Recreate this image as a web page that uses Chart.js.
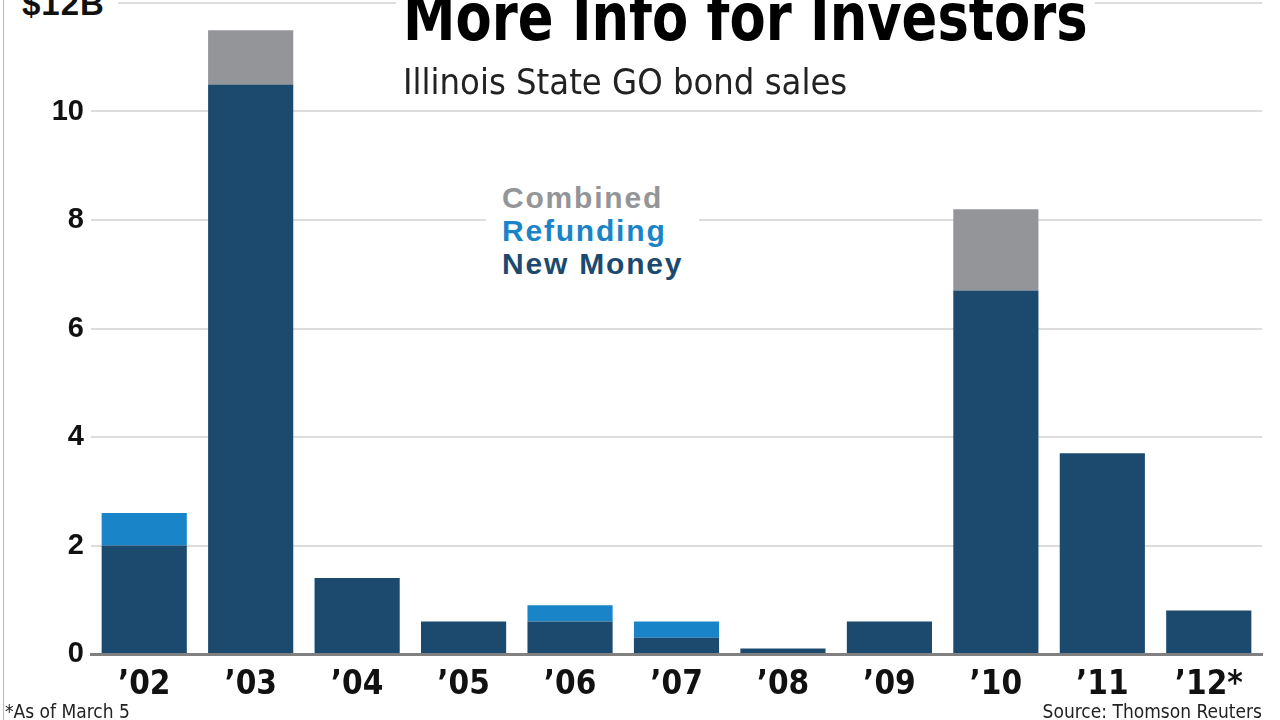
<!DOCTYPE html>
<html>
<head>
<meta charset="utf-8">
<script src="https://cdn.jsdelivr.net/npm/chart.js@4"></script>
<style>
  html, body { margin: 0; padding: 0; background: #fff; }
  #wrap { position: relative; width: 1280px; height: 720px; overflow: hidden; }
  canvas { position: absolute; left: 0; top: 0; }
  .narrow { font-family: "Liberation Sans Narrow", "DejaVu Sans Condensed", "Arial Narrow", sans-serif; }
  #title { position: absolute; left: 396px; top: -15px; font-size: 66px; font-weight: bold; color: #000; background: #fff; padding: 0 8px; line-height: 66px; transform: scaleX(0.888); transform-origin: left top; }
  #subtitle { position: absolute; left: 403px; top: 62px; font-size: 36px; color: #222; line-height: 40px; }
  #legend { position: absolute; left: 486px; top: 181px; background: #fff; padding: 0 16px; font-family: "Liberation Sans", Arial, sans-serif; font-weight: bold; font-size: 30px; letter-spacing: 1.8px; line-height: 33px; }
  #ytop { position: absolute; left: 22px; top: -14px; padding-right: 13px; background: #fff; font-family: "Liberation Sans", Arial, sans-serif; font-weight: bold; font-size: 33px; letter-spacing: 1px; line-height: 36px; color: #111; }
  #note { position: absolute; left: 5px; top: 700px; font-size: 19px; color: #222; }
  #source { position: absolute; right: 18px; top: 700px; font-size: 19px; color: #222; }
  #frame { position: absolute; left: 3px; top: 0; width: 1px; height: 720px; background: #bbb; }
</style>
</head>
<body>
<div id="wrap">
  <canvas id="chart" width="1280" height="720"></canvas>
  <div id="frame"></div>
  <div id="ytop">$12B</div>
  <div id="title" class="narrow">More Info for Investors</div>
  <div id="subtitle" class="narrow">Illinois State GO bond sales</div>
  <div id="legend">
    <div style="color:#939598">Combined</div>
    <div style="color:#1a84c8">Refunding</div>
    <div style="color:#1b4a6e">New Money</div>
  </div>
  <div id="note" class="narrow">*As of March 5</div>
  <div id="source" class="narrow">Source: Thomson Reuters</div>
</div>
<script>
const years = ['\u201902', '\u201903', '\u201904', '\u201905', '\u201906', '\u201907', '\u201908', '\u201909', '\u201910', '\u201911', '\u201912*']
const newMoney = [2.0, 10.5, 1.4, 0.6, 0.6, 0.3, 0.1, 0.6, 6.7, 3.7, 0.8]
const refunding = [0.6, 0, 0, 0, 0.3, 0.3, 0, 0, 0, 0, 0]
const combined = [0, 1.0, 0, 0, 0, 0, 0, 0, 1.5, 0, 0]
const yTicks = [0, 2, 4, 6, 8, 10, 12]

const ctx = document.getElementById('chart').getContext('2d')

new Chart(ctx, {
    type: 'bar',
    data: {
        labels: years,
        datasets: [
            { label: 'New Money', data: newMoney, backgroundColor: '#1b4a6e' },
            { label: 'Refunding', data: refunding, backgroundColor: '#1a84c8' },
            { label: 'Combined', data: combined, backgroundColor: '#939598' }
        ]
    },
    options: {
        responsive: false,
        animation: false,
        layout: { padding: { top: 3, right: 18, left: 0, bottom: 0 } },
        plugins: { legend: { display: false }, tooltip: { enabled: false } },
        datasets: { bar: { categoryPercentage: 0.8, barPercentage: 1.0 } },
        scales: {
            x: {
                stacked: true,
                grid: { display: false },
                border: { color: '#808080', width: 3 },
                ticks: {
                    color: '#111',
                    padding: 4,
                    font: { family: '"Liberation Sans Narrow", "DejaVu Sans Condensed", sans-serif', weight: 'bold', size: 33 }
                },
                afterFit: s => { s.height = 66; s.paddingLeft = 0; s.paddingRight = 0 }
            },
            y: {
                stacked: true,
                min: 0,
                max: 12,
                afterBuildTicks: s => { s.ticks = yTicks.map(v => ({ value: v })) },
                grid: { color: '#dcdcdc', lineWidth: 2, drawTicks: false },
                border: { display: false },
                ticks: {
                    color: '#111',
                    padding: 7,
                    font: { family: '"Liberation Sans", Arial, sans-serif', weight: 'bold', size: 29 },
                    // the top tick is labelled "$12B" in its own box above
                    callback: v => v === 12 ? '' : v
                },
                afterFit: s => { s.width = 91; s.paddingTop = 0; s.paddingBottom = 0 }
            }
        }
    }
})
</script>
</body>
</html>
